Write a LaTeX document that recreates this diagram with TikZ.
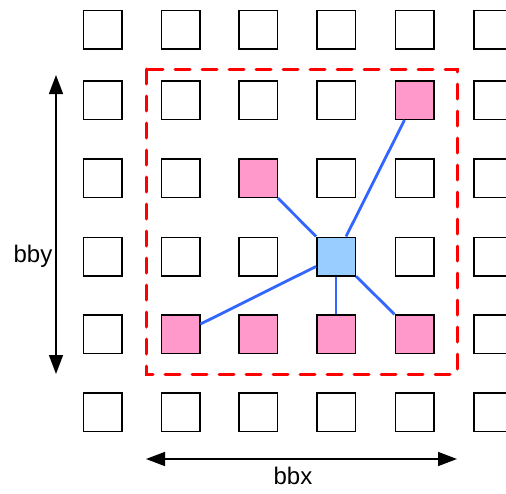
\documentclass[tikz,border=0pt]{standalone}
\usepackage{fontspec}
\setmainfont{Liberation Sans}
\usetikzlibrary{arrows.meta}
\definecolor{pinkcell}{HTML}{FF99CC}
\definecolor{bluecell}{HTML}{99CCFF}
\definecolor{linkblue}{HTML}{3366FF}
\begin{document}
\begin{tikzpicture}[x=1pt,y=-1pt,
    cell/.style={draw,line width=1.5pt,minimum size=38.5pt,inner sep=0pt},
    link/.style={linkblue,line width=2.8pt},
    dim/.style={line width=1.5pt,{Triangle[length=19pt,width=14pt]}-{Triangle[length=19pt,width=14pt]}},
    lbl/.style={font=\fontsize{24pt}{28pt}\selectfont,inner sep=0pt,anchor=base}]
                \useasboundingbox (0,0) rectangle (506,493);
                % grid of cells
                \foreach \x [count=\i] in {102.5,180.5,258,336,414.5,493}
                    \foreach \y [count=\j] in {29.5,100,178,256.5,334,412}
                        \node[cell] (c\i\j) at (\x,\y) {};
                \foreach \n in {52,33,25,35,45,55}
                    \node[cell,fill=pinkcell] at (c\n) {};
                \node[cell,fill=bluecell] at (c44) {};
                % links
                \foreach \n in {52,33,25,45,55}
                    \draw[link] (c44) -- (c\n);
                % bounding box
                \draw[red,line width=3pt,line cap=round,dash pattern=on 15pt off 12pt] (146,69) rectangle (457,374);
                \coordinate (yt) at (56,75);
                \coordinate (yb) at (56,374);
                \coordinate (xl) at (146,459);
                \coordinate (xr) at (457,459);
                \draw[dim] (yt) -- (yb);
                \draw[dim] (xl) -- (xr);
                \node[lbl] (bby) at (33,262) {bby};
                \node[lbl] (bbx) at (293,484) {bbx};
            \end{tikzpicture}
\end{document}
